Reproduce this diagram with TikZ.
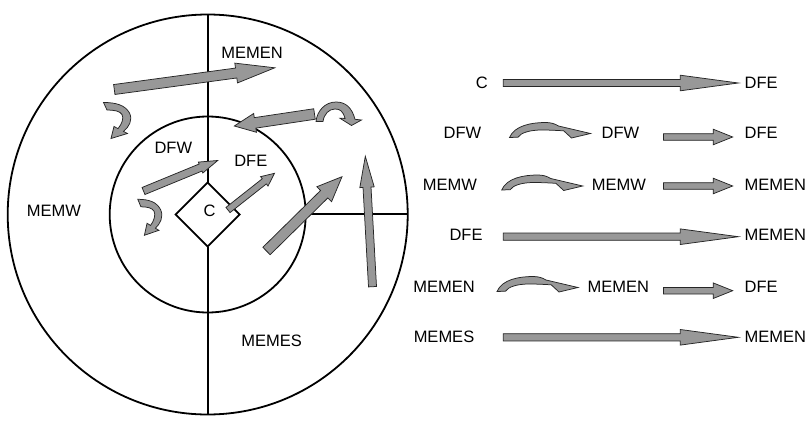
\documentclass[tikz,border=0pt]{standalone}
\usepackage{fontspec}
\setmainfont{Liberation Sans}
\usetikzlibrary{calc}
\definecolor{agray}{RGB}{152,152,152}
\tikzset{
  blk/.style={fill=agray, draw=black!85, line width=0.75pt, line join=miter},
  ring/.style={draw=black, line width=1.8pt},
  lbl/.style={font=\fontsize{16.5}{18}\selectfont, inner sep=0pt, anchor=center},
}
% tail, tip, shaft half width, head half width, head length
\newcommand\blockarrow[5]{%
  \coordinate (ba-h) at ($(#2)!#5!(#1)$);
  \draw[blk] ($(#1)!#3!90:(#2)$) -- ($(ba-h)!#3!90:(#2)$) -- ($(ba-h)!#4!90:(#2)$)
    -- (#2) -- ($(ba-h)!#4!-90:(#2)$) -- ($(ba-h)!#3!-90:(#2)$) -- ($(#1)!#3!-90:(#2)$) -- cycle;
}
% legend curved arrow, origin at bottom-left of its foot
\newcommand\legcurve[1]{%
  \draw[blk, shift={(#1)}] (0,0) -- (8.5,-0.3) .. controls (11,-4.5) and (20,-7.5) .. (32,-7.5)
    .. controls (41,-7.5) and (48,-7) .. (54.2,-6.7) -- (62,0.5) -- (81,-4) -- (49,-11.5)
    .. controls (45,-14) and (41,-15) .. (36,-15)
    .. controls (22,-15) and (5,-12) .. (0,0) -- cycle;
}
% hook arrow, origin at top-left of its tail
\newcommand\hookarrow[2]{%
  \draw[blk, shift={(#1)}, xscale=#2] (0,0) .. controls (12.5,0) and (21.5,2.5) .. (26,10.5)
    .. controls (29.5,17.5) and (25.5,24.5) .. (20,28.9) -- (24,31) -- (7.5,36) -- (10.5,24)
    -- (14.5,26.1) .. controls (18.5,21.5) and (20.5,15.5) .. (18.5,12)
    .. controls (16.5,8.5) and (10.5,7.5) .. (3.5,7.5) -- cycle;
}
\begin{document}
\begin{tikzpicture}[x=1pt, y=-1pt]
\useasboundingbox (0,0) rectangle (810,428);
% circles and partition lines
\coordinate (O) at (207.7,214.5);
\coordinate (Otop) at (207.7,14.5);
\coordinate (Obot) at (207.7,414.5);
\coordinate (Oright) at (407.7,214);
\coordinate (Iright) at (305.7,214);
\coordinate (Dt) at (207.7,182.5);
\coordinate (Db) at (207.7,246.5);
\coordinate (Dl) at (175.7,214.5);
\coordinate (Dr) at (239.7,214.5);
\draw[ring] (O) circle[radius=200];
\draw[ring] (O) circle[radius=98];
\draw[ring] (Otop) -- (Dt);
\draw[ring] (Db) -- (Obot);
\draw[ring] (Iright) -- (Oright);
\draw[ring, line join=miter] (Dt) -- (Dr) -- (Db) -- (Dl) -- cycle;
% labels in the circle
\node[lbl] (cMEMEN) at (252.2,52.5) {MEMEN};
\node[lbl] (cMEMW) at (54,210.5) {MEMW};
\node[lbl] (cDFW) at (173.3,148.3) {DFW};
\node[lbl] (cDFE) at (250.8,160.8) {DFE};
\node[lbl] (cC) at (209.5,210.5) {C};
\node[lbl] (cMEMES) at (271.7,340.8) {MEMES};
% arrows in the circle
\coordinate (a1t) at (114.3,89.5);  \coordinate (a1h) at (274.8,67.8);
\coordinate (a2t) at (314.5,114);   \coordinate (a2h) at (234.3,126);
\coordinate (a3t) at (143.5,191);   \coordinate (a3h) at (217.7,160.5);
\coordinate (a4t) at (228,210);     \coordinate (a4h) at (274.5,173.3);
\coordinate (a5t) at (266.5,251);   \coordinate (a5h) at (342,176.7);
\coordinate (a6t) at (372.5,286.7); \coordinate (a6h) at (365.3,156.3);
\blockarrow{a1t}{a1h}{5pt}{10pt}{39pt}
\blockarrow{a2t}{a2h}{5.3pt}{9.5pt}{21pt}
\blockarrow{a3t}{a3h}{3.8pt}{5.9pt}{18.5pt}
\blockarrow{a4t}{a4h}{3.3pt}{6pt}{13pt}
\blockarrow{a5t}{a5h}{5.2pt}{10.5pt}{25pt}
\blockarrow{a6t}{a6h}{4pt}{7.2pt}{31pt}
\hookarrow{103.5,102.5}{1}
\hookarrow{137.8,199.3}{0.88}
\draw[blk] (316,121.5) .. controls (317,111) and (325,102) .. (336,102)
  .. controls (346,102) and (352,108) .. (355,119.3) -- (361.5,120) -- (351.5,125.5)
  -- (340,118.3) -- (345,118.4) .. controls (343,111) and (340,109) .. (335,109)
  .. controls (329,109) and (324,114) .. (323,121.5) -- cycle;
% legend
\node[lbl] (r1a) at (481.7,82.7) {C};
\node[lbl, anchor=west] (r1c) at (744.5,82.7) {DFE};
\node[lbl] (r2a) at (462.5,133.3) {DFW};
\node[lbl] (r2b) at (620.5,133.3) {DFW};
\node[lbl, anchor=west] (r2c) at (744.5,133.3) {DFE};
\node[lbl] (r3a) at (450,185) {MEMW};
\node[lbl] (r3b) at (619,185) {MEMW};
\node[lbl, anchor=west] (r3c) at (744.5,185) {MEMEN};
\node[lbl] (r4a) at (466,235) {DFE};
\node[lbl, anchor=west] (r4c) at (744.5,235) {MEMEN};
\node[lbl] (r5a) at (444,286.7) {MEMEN};
\node[lbl] (r5b) at (618.3,286.7) {MEMEN};
\node[lbl, anchor=west] (r5c) at (744.5,286.7) {DFE};
\node[lbl] (r6a) at (444,336.7) {MEMES};
\node[lbl, anchor=west] (r6c) at (744.5,336.7) {MEMEN};
\coordinate (l1t) at (503.3,83);    \coordinate (l1h) at (738.3,83);
\coordinate (l4t) at (503.3,236.7); \coordinate (l4h) at (738.3,236.7);
\coordinate (l6t) at (503.3,337.3); \coordinate (l6h) at (738.3,337.3);
\coordinate (s2t) at (663.5,137);   \coordinate (s2h) at (732.7,137);
\coordinate (s3t) at (663.5,186);   \coordinate (s3h) at (732.7,186);
\coordinate (s5t) at (663.5,290.7); \coordinate (s5h) at (732.7,290.7);
\blockarrow{l1t}{l1h}{3.6pt}{7.8pt}{58pt}
\blockarrow{l4t}{l4h}{3.6pt}{7.8pt}{58pt}
\blockarrow{l6t}{l6h}{3.6pt}{7.8pt}{58pt}
\blockarrow{s2t}{s2h}{3.3pt}{7.8pt}{19.5pt}
\blockarrow{s3t}{s3h}{3.3pt}{7.8pt}{19.5pt}
\blockarrow{s5t}{s5h}{3.3pt}{7.8pt}{19.5pt}
\legcurve{509.5,137.5}
\legcurve{501.7,190}
\legcurve{497,291.5}
\end{tikzpicture}
\end{document}
